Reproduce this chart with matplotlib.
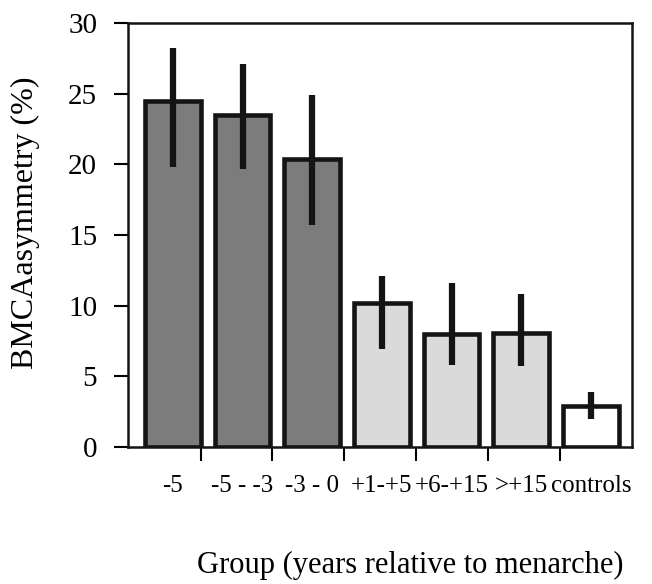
import matplotlib.pyplot as plt
import numpy as np

plt.rcParams['font.family'] = ['Liberation Serif', 'DejaVu Serif']

groups = ['-5', '-5 - -3', '-3 - 0', '+1-+5', '+6-+15', '>+15', 'controls']
means = [24.5, 23.5, 20.4, 10.2, 8.0, 8.1, 2.9]
err_low = [4.7, 3.8, 4.7, 3.3, 2.2, 2.4, 0.9]    # mean minus lower end of bar
err_high = [3.7, 3.6, 4.5, 1.9, 3.6, 2.7, 1.0]   # upper end minus mean
fills = ['#7c7c7c', '#7c7c7c', '#7c7c7c', '#dadada', '#dadada', '#dadada', 'white']

fig = plt.figure(figsize=(6.52, 5.84), dpi=100)
ax = fig.add_axes([0.196, 0.2346, 0.773, 0.726])

x = np.arange(len(groups))
ax.bar(x, means, width=0.8, color=fills, edgecolor='#141414', linewidth=3.3, zorder=2)
ax.errorbar(x, means, yerr=[err_low, err_high], fmt='none', ecolor='#141414',
            elinewidth=4.5, capsize=0, zorder=3)

ax.set_xlim(-0.646, 6.585)
ax.set_ylim(0, 30)
ax.set_yticks(range(0, 31, 5))
ax.tick_params(axis='y', direction='out', length=10, width=1.5, pad=12, labelsize=21)

# labels under bars, ticks on the group boundaries
ax.set_xticks(x)
ax.set_xticklabels(groups)
ax.tick_params(axis='x', which='major', length=0, pad=20, labelsize=18)
ax.set_xticks(x[:-1] + 0.4 + 0.03 * x[:-1], minor=True)
ax.tick_params(axis='x', which='minor', direction='out', length=10, width=1.5)

for s in ax.spines.values():
    s.set_linewidth(1.8)
    s.set_color('#141414')

ax.set_ylabel('BMCAasymmetry (%)', fontsize=23)
ax.yaxis.set_label_coords(-0.175, 0.53)
ax.set_xlabel('Group (years relative to menarche)', fontsize=22)
ax.xaxis.set_label_coords(0.56, -0.245)

fig.savefig('out.png', dpi=100)
